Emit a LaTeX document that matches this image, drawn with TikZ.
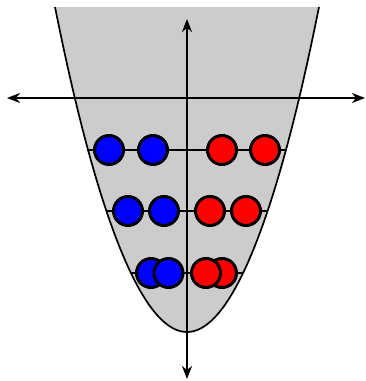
\documentclass[tikz,border=0pt]{standalone}
\usetikzlibrary{arrows.meta}
\tikzset{
	well/.style={fill=black!20},
	axis/.style={{Stealth[length=13pt, width=10pt, inset=4pt]}-{Stealth[length=13pt, width=10pt, inset=4pt]}, line width=1.8pt},
	ball/.style={circle, draw=black, line width=3pt, minimum size=29pt, inner sep=0pt},
	level/.style={line width=1.5pt}
}
\begin{document}
\begin{tikzpicture}[x=1pt, y=-1pt]
		\useasboundingbox (0,0) rectangle (366,381);
		% potential well
		\fill[well] (55,7) parabola bend (187,332) (319,7) -- cycle;
		\draw[line width=1.7pt] (55,7) parabola bend (187,332) (319,7);
		% axes
		\coordinate (west) at (7,98);
		\coordinate (east) at (365,98);
		\coordinate (north) at (187,19);
		\coordinate (south) at (187,379);
		\draw[axis] (west) -- (east);
		\draw[axis] (north) -- (south);
		% levels
		\coordinate (l1a) at (87,150);  \coordinate (l1b) at (287,150);
		\coordinate (l2a) at (106,211); \coordinate (l2b) at (268,211);
		\coordinate (l3a) at (131,273); \coordinate (l3b) at (243,273);
		\draw[level] (l1a) -- (l1b);
		\draw[level] (l2a) -- (l2b);
		\draw[level] (l3a) -- (l3b);
		% particles, outer ones first
		\node[ball, fill=blue] (b1o) at (109,150) {};
		\node[ball, fill=blue] (b1i) at (153,150) {};
		\node[ball, fill=red] (r1o) at (265,150) {};
		\node[ball, fill=red] (r1i) at (222,150) {};
		\node[ball, fill=blue] (b2o) at (128,211) {};
		\node[ball, fill=blue] (b2i) at (164,211) {};
		\node[ball, fill=red] (r2o) at (246,211) {};
		\node[ball, fill=red] (r2i) at (210,211) {};
		\node[ball, fill=blue] (b3o) at (151,273) {};
		\node[ball, fill=blue] (b3i) at (168.5,273) {};
		\node[ball, fill=red] (r3o) at (222,273) {};
		\node[ball, fill=red] (r3i) at (206,273) {};
	\end{tikzpicture}
\end{document}
